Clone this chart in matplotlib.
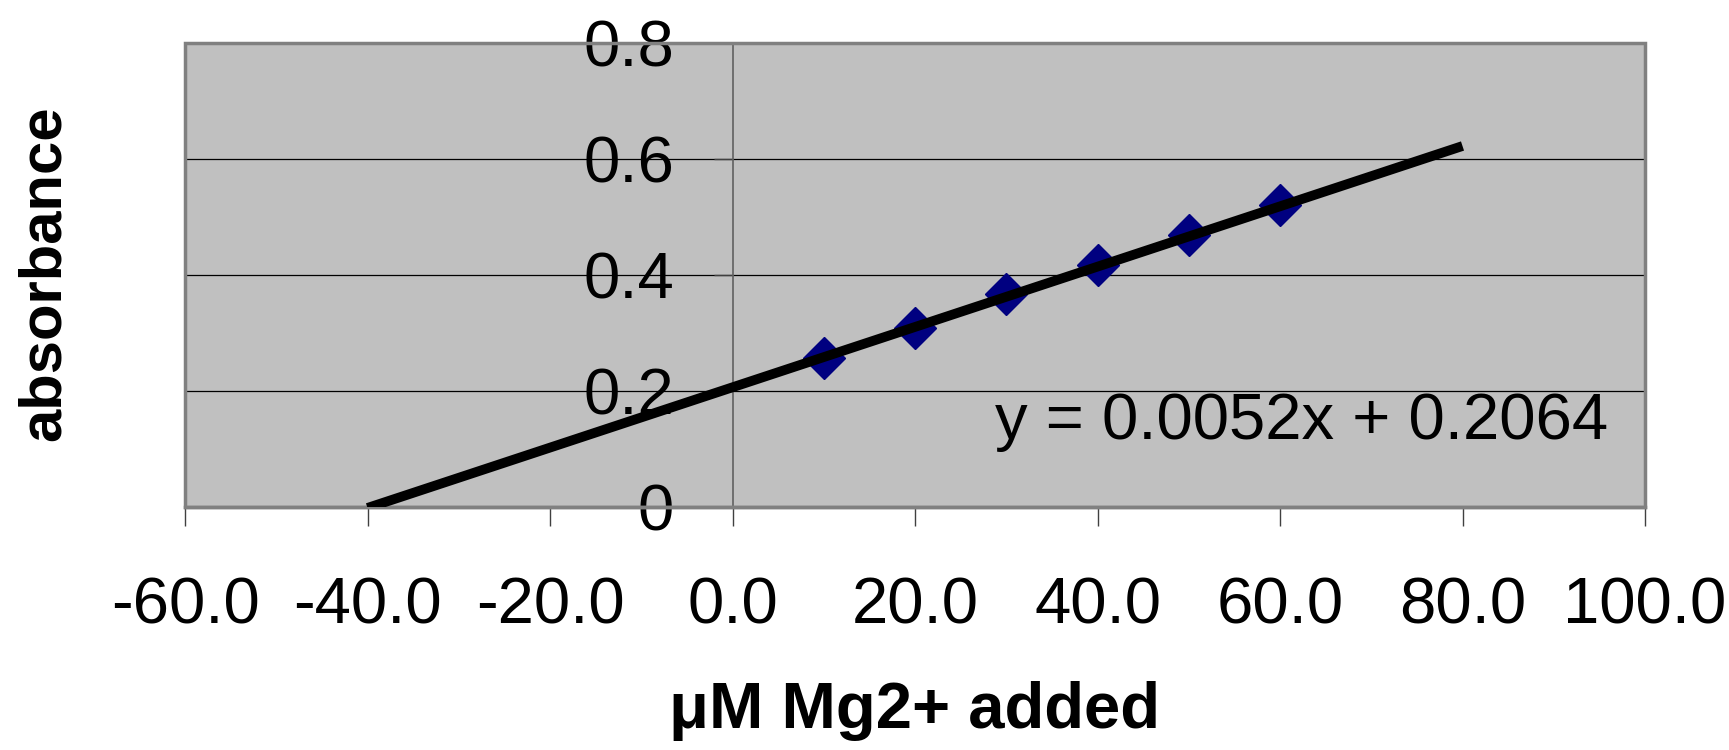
import numpy as np
import matplotlib
matplotlib.use('Agg')
import matplotlib.pyplot as plt
from matplotlib.patches import Rectangle
from matplotlib.ticker import FuncFormatter

# data
mg_added = [10, 20, 30, 40, 50, 60]
absorbance = [0.257, 0.309, 0.367, 0.418, 0.469, 0.520]
slope = 0.0052
intercept = 0.2064
trend_x = [-40, 80]

x_ticks = [-60, -40, -20, 0, 20, 40, 60, 80, 100]
y_ticks = [0, 0.2, 0.4, 0.6, 0.8]

plt.rcParams['font.family'] = ['Liberation Sans', 'DejaVu Sans']

fig = plt.figure(figsize=(17.29, 7.5), dpi=100)
ax = fig.add_axes([185 / 1729, 1 - 507 / 750, 1460 / 1729, 464 / 750])
ax.set_facecolor('#C0C0C0')
ax.set_xlim(-60, 100)
ax.set_ylim(0, 0.8)

# y axis crosses at x = 0
for s in ['top', 'right']:
    ax.spines[s].set_visible(False)
ax.spines['left'].set_position(('data', 0))
ax.spines['left'].set_color('#606060')
ax.spines['left'].set_linewidth(1.2)
ax.spines['bottom'].set_color('#808080')
ax.spines['bottom'].set_linewidth(2.5)

# plot area border
ax.add_patch(Rectangle((0, 0), 1, 1, transform=ax.transAxes, fill=False,
                       edgecolor='#808080', lw=2.5, zorder=4, clip_on=False))

for yv in y_ticks[1:-1]:
    ax.axhline(yv, color='black', lw=0.9, zorder=1)

ax.set_xticks(x_ticks)
ax.set_yticks(y_ticks)
ax.xaxis.set_major_formatter(FuncFormatter(lambda v, p: '%.1f' % v))
ax.yaxis.set_major_formatter(FuncFormatter(lambda v, p: '%g' % v))
ax.tick_params(axis='x', direction='out', length=14, width=1, color='#404040',
               labelsize=47, pad=36)
ax.tick_params(axis='y', direction='out', length=14, width=1, color='#404040',
               labelsize=47, pad=28)

ax.plot(mg_added, absorbance, linestyle='none', marker='D', ms=21,
        color='#000080', zorder=3)

tx = np.array(trend_x, dtype=float)
ax.plot(tx, slope * tx + intercept, color='black', lw=7, zorder=5,
        solid_capstyle='butt')

ax.text(1608 / 1729, 1 - 422 / 750, 'y = %.4fx + %.4f' % (slope, intercept),
        transform=fig.transFigure, ha='right', va='center', fontsize=47)

fig.text(44 / 1729, 1 - 273 / 750, 'absorbance', rotation=90, ha='center',
         va='center', fontsize=43, fontweight='bold')
fig.text(915 / 1729, 1 - 711 / 750, 'μM Mg2+ added', ha='center',
         va='center', fontsize=47, fontweight='bold')

fig.savefig('out.png', dpi=100)
